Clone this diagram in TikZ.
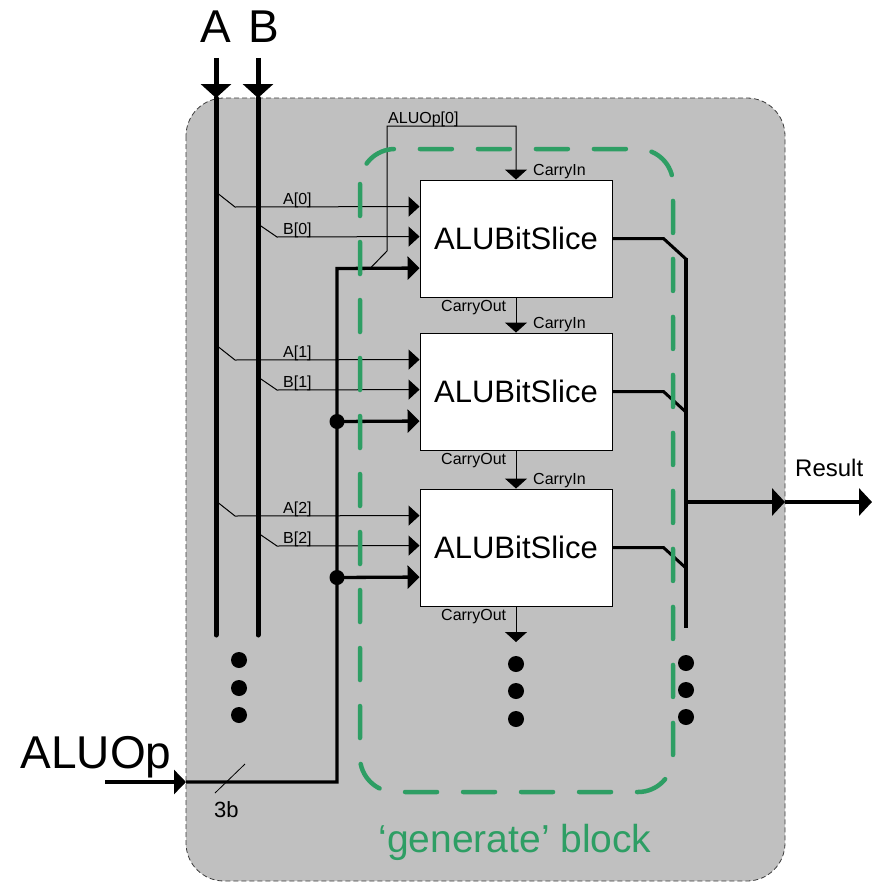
\documentclass[tikz,border=0pt]{standalone}
\usepackage{fontspec}
\setmainfont{Liberation Sans}
\usetikzlibrary{arrows.meta}
\definecolor{panelgray}{RGB}{192,192,192}
\definecolor{edgegray}{RGB}{60,60,60}
\definecolor{gengreen}{RGB}{46,158,100}
\begin{document}
\begin{tikzpicture}[x=1pt,y=-1pt,
  slice/.style={draw=black, line width=0.9pt, fill=white, minimum width=192pt,
    minimum height=117pt, inner sep=0pt, font=\fontsize{31}{36}\selectfont},
  small/.style={font=\fontsize{16}{19}\selectfont, inner sep=0pt},
  big/.style={font=\fontsize{46}{52}\selectfont, inner sep=0pt},
  bus/.style={line width=5pt},
  wire/.style={line width=1pt},
  opwire/.style={line width=3.3pt},
  outwire/.style={line width=3pt},
  junction/.style={circle, fill=black, inner sep=0pt, minimum size=15pt},
  ellipsisdot/.style={circle, fill=black, inner sep=0pt, minimum size=16pt},
  bustip/.tip={Triangle[width=30pt,length=14pt]},
  intip/.tip={Triangle[width=20pt,length=11pt]},
  optip/.tip={Triangle[width=23pt,length=12pt]},
  carrytip/.tip={Triangle[width=22pt,length=10pt]},
  restip/.tip={Triangle[width=27pt,length=13pt]},
  aluoptip/.tip={Triangle[width=24pt,length=12pt]},
]
\useasboundingbox (0,0) rectangle (878,883);

% enclosing module
\draw[fill=panelgray, draw=edgegray, line width=0.8pt, dash pattern=on 5pt off 3pt,
  rounded corners=38pt] (186,98) rectangle (785,881);

% external labels
\node[big, anchor=base] (labA) at (216,43) {A};
\node[big, anchor=base] (labB) at (264,43) {B};
\node[big, anchor=base] (labOp) at (96,768) {ALUOp};
\node[font=\fontsize{24}{28}\selectfont, inner sep=0pt, anchor=base west] (labRes) at (795,476) {Result};

% A and B input buses
\coordinate (aTop) at (216,58);
\coordinate (aIn) at (216,98);
\coordinate (aEnd) at (216,635);
\coordinate (bTop) at (258,58);
\coordinate (bIn) at (258,98);
\coordinate (bEnd) at (258,635);
\draw[bus,-{bustip}] (aTop) -- (aIn);
\draw[bus,line cap=round] (aIn) -- (aEnd);
\draw[bus,-{bustip}] (bTop) -- (bIn);
\draw[bus,line cap=round] (bIn) -- (bEnd);

% bit slices and their inputs
\foreach \i/\yt in {0/180,1/333,2/489}{
  \node[slice] (s\i) at (516,\yt+58.5) {ALUBitSlice};
  \path (s\i.north west) ++(0,27) coordinate (ain\i);
  \path (s\i.north west) ++(0,57) coordinate (bin\i);
  \path (s\i.north west) ++(0,88.5) coordinate (opin\i);
  \coordinate (atap\i) at (216,\yt+12);
  \coordinate (btap\i) at (258,\yt+44);
  \draw[wire,-{intip}] (atap\i) -- (235,\yt+27) -- (ain\i);
  \draw[wire,-{intip}] (btap\i) -- (277,\yt+57) -- (bin\i);
  \node[small, anchor=base west] (la\i) at (283,\yt+24) {A[\i]};
  \node[small, anchor=base west] (lb\i) at (283,\yt+54) {B[\i]};
  \node[small, anchor=base west] (lci\i) at (533,\yt-5) {CarryIn};
  \node[small, anchor=base west] (lco\i) at (441,\yt+131) {CarryOut};
}

% carry chain
\coordinate (carryEnd) at (516,642);
\draw[wire,-{carrytip}] (s0.south) -- (s1.north);
\draw[wire,-{carrytip}] (s1.south) -- (s2.north);
\draw[wire,-{carrytip}] (s2.south) -- (carryEnd);

% ALUOp bus
\coordinate (opStart) at (105,782);
\coordinate (opIn) at (186,782);
\coordinate (opCorner) at (337,782);
\coordinate (opTop) at (337,268.5);
\coordinate (opTap) at (370,268.5);
\draw[opwire,-{aluoptip}] (opStart) -- (opIn);
\draw[opwire,-{optip}] (opIn) -- (opCorner) -- (opTop) -- (opin0);
\node[junction] (j1) at (337,421.5) {};
\node[junction] (j2) at (337,577.5) {};
\draw[opwire,-{optip}] (j1.center) -- (opin1);
\draw[opwire,-{optip}] (j2.center) -- (opin2);
\coordinate (slashA) at (215,793);
\coordinate (slashB) at (245,764);
\draw[line width=0.8pt] (slashA) -- (slashB);
\node[font=\fontsize{22}{26}\selectfont, inner sep=0pt, anchor=base west] (lw) at (214,817) {3b};

% ALUOp[0] drives the first carry-in
\draw[wire,-{carrytip}] (opTap) -- (387,251) -- (387,126) -| (s0.north);
\node[small, anchor=base west] (lop0) at (388,123) {ALUOp[0]};

% result bus
\coordinate (resTop) at (686,258);
\coordinate (resEnd) at (686,628);
\draw[line width=4.5pt] (resTop) -- (resEnd);
\foreach \i in {0,1,2}{
  \draw[outwire] (s\i.east) -- ++(51,0) -- ++(23,21);
}
\coordinate (resTap) at (686,502);
\coordinate (resOut) at (785,502);
\coordinate (resEndPt) at (872,502);
\draw[line width=4pt,-{restip}] (resTap) -- (resOut);
\draw[line width=4pt,-{restip}] (resOut) -- (resEndPt);

% continuation dots
\foreach \y [count=\k] in {660,688,715}{
  \node[ellipsisdot] (dl\k) at (239,\y) {};
}
\foreach \y [count=\k] in {664,691,719}{
  \node[ellipsisdot] (dm\k) at (516,\y) {};
}
\foreach \y [count=\k] in {663,690,717}{
  \node[ellipsisdot] (dr\k) at (686,\y) {};
}

% generate block outline and caption
\draw[gengreen, line width=4.5pt, line cap=round, dash pattern=on 32pt off 26pt,
  rounded corners=35pt] (360,149) rectangle (673,792);
\node[text=gengreen, font=\fontsize{39}{46}\selectfont, inner sep=0pt, anchor=base]
  (gen) at (515,852) {‘generate’ block};
\end{tikzpicture}
\end{document}
